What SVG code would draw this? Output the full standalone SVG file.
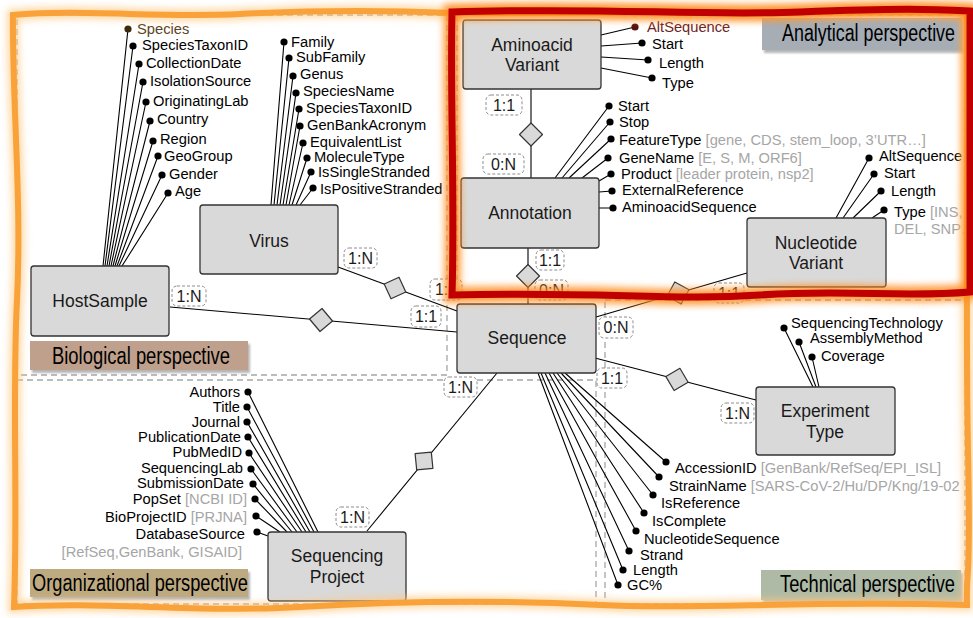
<svg xmlns="http://www.w3.org/2000/svg" width="973" height="618" viewBox="0 0 973 618">
<defs>
<style>
.box{fill:#d9d9d9;stroke:#333;stroke-width:1.3}
.lbl{font-family:"Liberation Sans",Arial,sans-serif;font-size:17.5px;fill:#1a1a1a;text-anchor:middle;dominant-baseline:central}
.at{font-family:"Liberation Sans",Arial,sans-serif;font-size:14.7px;fill:#000;dominant-baseline:central}
.end{text-anchor:end}
.g{fill:#a6a6a6}
.ln{stroke:#000;stroke-width:1.1;fill:none}
.dot{fill:#000}
.dm{fill:#d9d9d9;stroke:#333;stroke-width:1.2;stroke-linejoin:round}
.card{fill:#fff;stroke:#8c8c8c;stroke-width:1;stroke-dasharray:3 2}
.ct{font-family:"Liberation Sans",Arial,sans-serif;font-size:16px;fill:#1a1a1a;text-anchor:middle;dominant-baseline:central}
.dash{fill:none;stroke:#a6a6a6;stroke-width:1.3;stroke-dasharray:6 4}
.pt{font-family:"Liberation Sans",Arial,sans-serif;font-size:23px;fill:#000;dominant-baseline:central}
.sh{fill:#7a7a7a;opacity:.55}
</style>
<filter id="blur" x="-10%" y="-10%" width="120%" height="120%"><feGaussianBlur stdDeviation="3.5"/></filter>
<filter id="sblur" x="-10%" y="-30%" width="120%" height="160%"><feGaussianBlur stdDeviation="1.2"/></filter>
</defs>

<g id="regions">
<rect class="dash" x="17" y="15" width="430" height="360"/>
<rect class="dash" x="17" y="380" width="579" height="224"/>
<rect class="dash" x="457" y="15" width="508" height="280"/>
<rect class="dash" x="605" y="300" width="360" height="304"/>
</g>

<g id="perspective-labels">
<rect class="sh" x="32" y="344" width="218" height="29" filter="url(#sblur)"/>
<rect x="30" y="341" width="218" height="29" fill="#bfa08c"/>
<text class="pt" x="52" y="356" textLength="178" lengthAdjust="spacingAndGlyphs">Biological perspective</text>
<rect class="sh" x="32" y="572" width="218" height="28" filter="url(#sblur)"/>
<rect x="30" y="569" width="218" height="28" fill="#beaa80"/>
<text class="pt" x="32" y="583" textLength="216" lengthAdjust="spacingAndGlyphs">Organizational perspective</text>
<rect class="sh" x="763" y="573" width="200" height="30" filter="url(#sblur)"/>
<rect x="761" y="570" width="200" height="30" fill="#aebaa6"/>
<text class="pt" x="780" y="584" textLength="175" lengthAdjust="spacingAndGlyphs">Technical perspective</text>
<rect class="sh" x="764" y="21" width="200" height="32" filter="url(#sblur)"/>
<rect x="762" y="18" width="200" height="32" fill="#a6adb5"/>
<text class="pt" x="782" y="33" textLength="173" lengthAdjust="spacingAndGlyphs">Analytical perspective</text>
</g>

<g id="connectors">
<line class="ln" x1="170" y1="307" x2="457" y2="332"/>
<polygon class="dm" points="332.5,321 320,331.5 309.5,319 322,308.5"/>
<line class="ln" x1="338" y1="267" x2="457" y2="311"/>
<polygon class="dm" points="405.8,292 391,298.8 384.2,284 399,277.2"/>
<line class="ln" x1="528" y1="248" x2="528" y2="304"/>
<polygon class="dm" points="528,264.5 539.5,276 528,287.5 516.5,276"/>
<line class="ln" x1="531" y1="89" x2="531" y2="178"/>
<polygon class="dm" points="531,123 542.5,134.5 531,146 519.5,134.5"/>
<line class="ln" x1="596" y1="317" x2="747" y2="273"/>
<polygon class="dm" points="689,289.8 681.2,304 667,296.2 674.8,282"/>
<line class="ln" x1="595" y1="358" x2="756" y2="400"/>
<polygon class="dm" points="688.1,382.3 674.1,390.5 665.9,376.6 679.9,368.3"/>
<line class="ln" x1="497" y1="373" x2="367" y2="531"/>
<polygon class="dm" points="416.7,469.9 415.1,453.7 431.3,452.1 432.9,468.3"/>

<rect class="card" x="172" y="286" width="34" height="20" rx="5"/><text class="ct" x="189" y="296">1:N</text>
<rect class="card" x="411" y="306" width="30" height="21" rx="5"/><text class="ct" x="426" y="316.5">1:1</text>
<rect class="card" x="344" y="248" width="33" height="20" rx="5"/><text class="ct" x="360.5" y="258">1:N</text>
<rect class="card" x="430" y="279" width="32" height="21" rx="5"/><text class="ct" x="446" y="289.5">1:1</text>
<rect class="card" x="486" y="95" width="36" height="20" rx="5"/><text class="ct" x="504" y="105">1:1</text>
<rect class="card" x="483" y="154" width="41" height="20" rx="5"/><text class="ct" x="503.5" y="164">0:N</text>
<rect class="card" x="536" y="250" width="28" height="20" rx="5"/><text class="ct" x="550" y="260">1:1</text>
<rect class="card" x="535" y="280" width="33" height="20" rx="5"/><text class="ct" x="551.5" y="290">0:N</text>
<rect class="card" x="599" y="317" width="34" height="21" rx="5"/><text class="ct" x="616" y="327.5">0:N</text>
<rect class="card" x="714" y="283" width="30" height="20" rx="5"/><text class="ct" x="729" y="293">1:1</text>
<rect class="card" x="597" y="368" width="30" height="20" rx="5"/><text class="ct" x="612" y="378">1:1</text>
<rect class="card" x="721" y="403" width="33" height="20" rx="5"/><text class="ct" x="737.5" y="413">1:N</text>
<rect class="card" x="444" y="377" width="33" height="20" rx="5"/><text class="ct" x="460.5" y="387">1:N</text>
<rect class="card" x="336" y="507" width="33" height="20" rx="5"/><text class="ct" x="352.5" y="517">1:N</text>
</g>

<g id="HostSample">
<path class="ln" d="M103,266L128,29M105,266L133,46M107,266L139,64M109,266L143,82M111,266L146,102M113,266L150,121M115,266L153,141M117,266L158,156M119,266L162,175M122,266L168,193"/>
<circle cx="128" cy="29" r="3.6" fill="#3d2a0e"/>
<g class="dot"><circle cx="133" cy="46" r="3.6"/><circle cx="139" cy="64" r="3.6"/><circle cx="143" cy="82" r="3.6"/><circle cx="146" cy="102" r="3.6"/><circle cx="150" cy="121" r="3.6"/><circle cx="153" cy="141" r="3.6"/><circle cx="158" cy="156" r="3.6"/><circle cx="162" cy="175" r="3.6"/><circle cx="168" cy="193" r="3.6"/></g>
<text class="at" x="137" y="29" style="fill:#5a4424">Species</text>
<text class="at" x="142" y="45">SpeciesTaxonID</text>
<text class="at" x="146" y="63">CollectionDate</text>
<text class="at" x="150" y="81">IsolationSource</text>
<text class="at" x="153" y="101">OriginatingLab</text>
<text class="at" x="157" y="119">Country</text>
<text class="at" x="160" y="139">Region</text>
<text class="at" x="164" y="156">GeoGroup</text>
<text class="at" x="169" y="174">Gender</text>
<text class="at" x="175" y="191">Age</text>
<rect class="box" x="31" y="266" width="138" height="70" rx="3"/>
<text class="lbl" x="100" y="301">HostSample</text>
</g>

<g id="Virus">
<path class="ln" d="M271,205L284,42M274,205L289,58M277,205L293,76M280,205L296,93M283,205L299,109M286,205L300,126M289,205L303,143M292,205L307,158M296,205L311,172M300,205L313,188"/>
<g class="dot"><circle cx="284" cy="42" r="3.6"/><circle cx="289" cy="58" r="3.6"/><circle cx="293" cy="76" r="3.6"/><circle cx="296" cy="93" r="3.6"/><circle cx="299" cy="109" r="3.6"/><circle cx="300" cy="126" r="3.6"/><circle cx="303" cy="143" r="3.6"/><circle cx="307" cy="158" r="3.6"/><circle cx="311" cy="172" r="3.6"/><circle cx="313" cy="188" r="3.6"/></g>
<text class="at" x="291" y="42">Family</text>
<text class="at" x="296" y="57">SubFamily</text>
<text class="at" x="300" y="74">Genus</text>
<text class="at" x="303" y="91">SpeciesName</text>
<text class="at" x="306" y="108">SpeciesTaxonID</text>
<text class="at" x="307" y="125">GenBankAcronym</text>
<text class="at" x="310" y="142">EquivalentList</text>
<text class="at" x="314" y="157">MoleculeType</text>
<text class="at" x="318" y="172">IsSingleStranded</text>
<text class="at" x="320" y="189">IsPositiveStranded</text>
<rect class="box" x="200" y="205" width="138" height="69" rx="3"/>
<text class="lbl" x="269" y="241">Virus</text>
</g>

<g id="AminoacidVariant">
<path class="ln" d="M601,35L635,27M601,46L642,43M601,57L648,60M601,68L652,78"/>
<circle cx="635" cy="27" r="3.6" fill="#5a1010"/>
<g class="dot"><circle cx="642" cy="43" r="3.6"/><circle cx="648" cy="60" r="3.6"/><circle cx="652" cy="78" r="3.6"/></g>
<text class="at" x="647" y="27" style="fill:#6e2222">AltSequence</text>
<text class="at" x="652" y="44">Start</text>
<text class="at" x="659" y="63">Length</text>
<text class="at" x="662" y="83">Type</text>
<rect class="box" x="463" y="20" width="138" height="69" rx="3"/>
<text class="lbl" x="532" y="45">Aminoacid</text>
<text class="lbl" x="532" y="65">Variant</text>
</g>

<g id="Annotation">
<path class="ln" d="M555,178L609,106M562,178L610,122M569,178L611,139M582,178L608,158M599,181L611,174M599,192L612,191M599,208L613,208"/>
<g class="dot"><circle cx="609" cy="106" r="3.6"/><circle cx="610" cy="122" r="3.6"/><circle cx="611" cy="139" r="3.6"/><circle cx="608" cy="158" r="3.6"/><circle cx="611" cy="174" r="3.6"/><circle cx="612" cy="191" r="3.6"/><circle cx="613" cy="208" r="3.6"/></g>
<text class="at" x="618" y="106">Start</text>
<text class="at" x="619" y="122">Stop</text>
<text class="at" x="619" y="140">FeatureType <tspan class="g">[gene, CDS, stem_loop, 3’UTR…]</tspan></text>
<text class="at" x="619" y="158">GeneName <tspan class="g">[E, S, M, ORF6]</tspan></text>
<text class="at" x="621" y="174">Product <tspan class="g">[leader protein, nsp2]</tspan></text>
<text class="at" x="622" y="190">ExternalReference</text>
<text class="at" x="622" y="207">AminoacidSequence</text>
<rect class="box" x="461" y="178" width="138" height="70" rx="3"/>
<text class="lbl" x="530" y="213">Annotation</text>
</g>

<g id="NucleotideVariant">
<path class="ln" d="M836,218L869,158M843,218L874,174M853,218L881,191M872,218L884,210"/>
<g class="dot"><circle cx="869" cy="158" r="3.6"/><circle cx="874" cy="174" r="3.6"/><circle cx="881" cy="191" r="3.6"/><circle cx="884" cy="210" r="3.6"/></g>
<text class="at" x="879" y="156">AltSequence</text>
<text class="at" x="884" y="173">Start</text>
<text class="at" x="891" y="191">Length</text>
<text class="at" x="894" y="212">Type <tspan class="g">[INS,</tspan></text>
<text class="at g" x="894" y="229">DEL, SNP…</text>
<rect class="box" x="747" y="218" width="139" height="69" rx="3"/>
<text class="lbl" x="816" y="243">Nucleotide</text>
<text class="lbl" x="816" y="263">Variant</text>
</g>

<g id="ExperimentType">
<path class="ln" d="M784,328L813,387M799,342L816,387M812,357L819,387"/>
<g class="dot"><circle cx="784" cy="328" r="3.6"/><circle cx="799" cy="342" r="3.6"/><circle cx="812" cy="357" r="3.6"/></g>
<text class="at" x="791" y="323">SequencingTechnology</text>
<text class="at" x="810" y="338">AssemblyMethod</text>
<text class="at" x="821" y="356">Coverage</text>
<rect class="box" x="756" y="387" width="139" height="68" rx="3"/>
<text class="lbl" x="825" y="411">Experiment</text>
<text class="lbl" x="825" y="432">Type</text>
</g>

<g id="Sequence">
<path class="ln" d="M565,373L666,462M561,373L659,477M557,373L653,495M553,373L644,513M549,373L636,531M545,373L629,551M541,373L623,570M538,373L618,585"/>
<g class="dot"><circle cx="666" cy="462" r="3.6"/><circle cx="659" cy="477" r="3.6"/><circle cx="653" cy="495" r="3.6"/><circle cx="644" cy="513" r="3.6"/><circle cx="636" cy="531" r="3.6"/><circle cx="629" cy="551" r="3.6"/><circle cx="623" cy="570" r="3.6"/><circle cx="618" cy="585" r="3.6"/></g>
<text class="at" x="675" y="468">AccessionID <tspan class="g">[GenBank/RefSeq/EPI_ISL]</tspan></text>
<text class="at" x="669" y="486">StrainName <tspan class="g">[SARS-CoV-2/Hu/DP/Kng/19-02</tspan></text>
<text class="at" x="661" y="503">IsReference</text>
<text class="at" x="652" y="521">IsComplete</text>
<text class="at" x="644" y="539">NucleotideSequence</text>
<text class="at" x="640" y="555">Strand</text>
<text class="at" x="633" y="570">Length</text>
<text class="at" x="627" y="585">GC%</text>
<rect class="box" x="457" y="304" width="139" height="69" rx="3"/>
<text class="lbl" x="527" y="338">Sequence</text>
</g>

<g id="SequencingProject">
<path class="ln" d="M248,392L318,532M247,407L314,532M247,422L310,532M248,437L306,532M249,453L302,532M251,469L297,532M253,484L292,532M255,499L287,532M256,516L280,532M257,532L268,536"/>
<g class="dot"><circle cx="248" cy="392" r="3.6"/><circle cx="247" cy="407" r="3.6"/><circle cx="247" cy="422" r="3.6"/><circle cx="248" cy="437" r="3.6"/><circle cx="249" cy="453" r="3.6"/><circle cx="251" cy="469" r="3.6"/><circle cx="253" cy="484" r="3.6"/><circle cx="255" cy="499" r="3.6"/><circle cx="256" cy="516" r="3.6"/><circle cx="257" cy="532" r="3.6"/></g>
<text class="at end" x="240" y="392">Authors</text>
<text class="at end" x="240" y="407">Title</text>
<text class="at end" x="240" y="422">Journal</text>
<text class="at end" x="241" y="437">PublicationDate</text>
<text class="at end" x="242" y="452">PubMedID</text>
<text class="at end" x="243" y="468">SequencingLab</text>
<text class="at end" x="244" y="483">SubmissionDate</text>
<text class="at end" x="247" y="499">PopSet <tspan class="g">[NCBI ID]</tspan></text>
<text class="at end" x="247" y="517">BioProjectID <tspan class="g">[PRJNA]</tspan></text>
<text class="at end" x="245" y="534">DatabaseSource</text>
<text class="at end g" x="242" y="552">[RefSeq,GenBank, GISAID]</text>
<rect class="box" x="268" y="532" width="138" height="69" rx="3"/>
<text class="lbl" x="337" y="556">Sequencing</text>
<text class="lbl" x="337" y="577">Project</text>
</g>

<g id="frames" fill="none">
<path d="M13,15 C80,9 160,18 240,14 S380,10 452,13 L967,12 C969,150 965,300 968,450 S966,560 967,605 C800,600 700,610 600,605 S400,601 300,607 S100,601 14,607 C18,500 12,400 17,300 S12,100 13,15 Z" stroke="#ffc880" stroke-width="12" opacity="0.7" filter="url(#blur)"/>
<path d="M13,15 C80,9 160,18 240,14 S380,10 452,13 L967,12 C969,150 965,300 968,450 S966,560 967,605 C800,600 700,610 600,605 S400,601 300,607 S100,601 14,607 C18,500 12,400 17,300 S12,100 13,15 Z" stroke="#f9a23a" stroke-width="6"/>
<path d="M452,12 C600,7 700,16 800,12 S930,9 970,11 L970,292 C900,298 850,289 760,295 S600,291 452,295 C455,200 450,100 452,12 Z" stroke="#ff8a1a" stroke-width="16" opacity="0.85" filter="url(#blur)"/>
<path d="M452,12 C600,7 700,16 800,12 S930,9 970,11 L970,292 C900,298 850,289 760,295 S600,291 452,295 C455,200 450,100 452,12 Z" stroke="#c00000" stroke-width="7"/>
</g>
</svg>
